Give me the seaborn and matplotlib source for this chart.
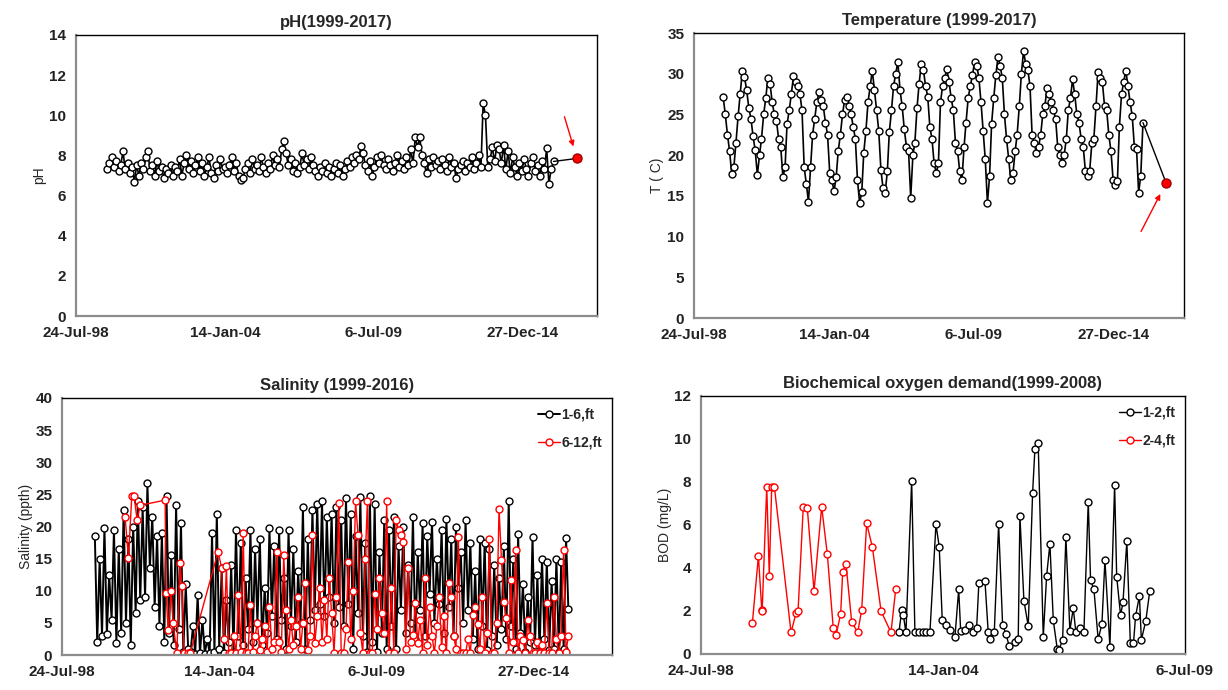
import matplotlib
matplotlib.use("Agg")
import matplotlib.pyplot as plt
import numpy as np
import pandas as pd
import seaborn as sns

# ---- data (Excel day serials on x) ----
EXCEL_EPOCH = pd.Timestamp("1899-12-30")

# pH, monthly from Sep 1999 to Feb 2016
ph_start = "1999-09-01"
ph_vals = [
    7.3, 7.6, 7.9, 7.4,
    7.7, 7.2, 7.5, 8.2, 7.3, 7.6, 7.1, 7.4, 6.7, 7.5, 7.0, 7.6,
    7.3, 7.9, 8.2, 7.2, 7.5, 7.0, 7.7, 7.2, 7.4, 6.9, 7.3, 7.1,
    7.5, 7.0, 7.4, 7.2, 7.8, 7.0, 7.6, 8.0, 7.3, 7.7, 7.1, 7.5,
    7.9, 7.2, 7.6, 7.0, 7.4, 7.9, 7.1, 6.9, 7.5, 7.2, 7.8, 7.3,
    7.4, 7.1, 7.5, 7.9, 7.2, 7.6, 7.0, 6.8, 6.9, 7.3, 7.6, 7.1,
    7.8, 7.3, 7.5, 7.2, 7.9, 7.4, 7.1, 7.6, 7.3, 8.0, 7.5, 7.8,
    7.4, 8.3, 8.7, 8.1, 7.5, 7.8, 7.2, 7.6, 7.1, 7.4, 8.1, 7.5,
    7.8, 7.3, 7.9, 7.5, 7.2, 7.0, 7.4, 7.2, 7.6, 7.1, 7.4, 7.0,
    7.3, 7.6, 7.1, 7.5, 7.0, 7.3, 7.7, 7.4, 7.9, 7.6, 8.0, 7.8,
    8.45, 8.1, 7.5, 7.2, 7.7, 7.0, 7.4, 7.9, 7.6, 8.0, 7.5, 7.3,
    7.8, 7.5, 7.2, 7.6, 8.0, 7.4, 7.7, 7.3, 7.9, 7.5, 8.3, 7.6,
    8.9, 8.4, 8.9, 8.0, 7.6, 7.1, 7.8, 7.4, 7.9, 7.5, 7.7, 7.3,
    7.8, 7.5, 7.2, 7.9, 7.4, 7.6, 6.9, 7.3, 7.5, 7.7, 7.2, 7.6,
    7.4, 7.9, 7.3, 7.6, 8.0, 7.4, 10.6, 10.0, 7.4, 7.8, 8.4, 7.7,
    8.5, 8.3, 7.6, 8.5, 7.3, 8.2, 7.1, 7.9, 7.4, 7.0, 7.6, 7.2,
    7.8, 7.3, 7.0, 7.6, 7.9, 7.2, 7.5, 7.0, 7.7, 7.3, 8.35, 6.6,
    7.3, 7.7,
]
ph_last_day = 42730
ph_last_val = 7.85

# Temperature, monthly from Sep 1999 to Feb 2016
temp_start = "1999-09-01"
temp_vals = [
    27.1, 25.0, 22.5, 20.5,
    17.7, 18.6, 21.5, 24.8, 27.5, 30.4, 29.6, 28.0, 25.8, 24.5, 22.3, 20.6,
    17.6, 20.0, 22.0, 25.0, 27.0, 29.5, 28.8, 26.5, 25.0, 24.2, 22.0, 21.0,
    17.3, 18.5, 23.8, 25.5, 27.5, 29.7, 29.0, 28.5, 27.5, 25.5, 18.5, 16.5,
    14.3, 18.5, 22.5, 24.5, 26.5, 27.8, 26.8, 26.0, 24.0, 22.5, 17.8, 17.0,
    15.6, 17.3, 20.5, 22.5, 25.0, 26.8, 27.1, 26.0, 25.0, 23.5, 22.0, 17.0,
    14.1, 15.5, 20.3, 23.0, 26.5, 28.5, 30.4, 28.0, 25.5, 23.0, 18.2, 16.0,
    15.4, 18.0, 22.8, 25.5, 28.5, 30.0, 31.5, 28.0, 26.0, 23.2, 21.0, 20.5,
    14.8, 20.0, 21.5, 25.8, 28.8, 31.2, 30.5, 28.5, 27.2, 23.5, 22.0, 19.0,
    17.8, 19.0, 26.5, 28.5, 29.5, 30.6, 29.0, 27.0, 25.5, 21.5, 20.5, 18.0,
    16.9, 21.0, 24.0, 27.0, 28.5, 29.8, 31.5, 31.0, 29.5, 26.5, 23.0, 19.5,
    14.1, 17.5, 23.8, 27.0, 29.8, 32.1, 31.0, 29.5, 25.0, 22.0, 19.5, 16.9,
    17.8, 20.5, 22.5, 26.0, 30.0, 32.8, 31.2, 30.5, 28.5, 22.5, 21.5, 20.3,
    21.0, 22.5, 25.0, 26.0, 28.3, 27.5, 26.5, 25.5, 24.5, 21.0, 20.0, 19.1,
    20.0, 22.0, 25.5, 27.0, 29.3, 27.5, 25.0, 24.0, 22.0, 21.0, 18.0, 17.5,
    18.1, 21.5, 22.0, 26.0, 30.2, 29.5, 29.0, 26.0, 25.5, 22.5, 20.5, 17.0,
    16.3, 16.8, 23.5, 27.5, 29.0, 30.4, 28.5, 26.5, 24.8, 21.0, 20.8, 15.4,
    17.5, 24.0,
]
temp_last_day = 42745
temp_last_val = 16.6

# Salinity 1-6 ft, monthly from Sep 1999 to Mar 2016
sal_shallow_start = "1999-09-01"
sal_shallow = [
    18.5, 2.0, 15.0, 3.0,
    19.8, 3.2, 12.5, 5.5, 19.5, 1.8, 16.5, 3.5, 22.5, 5.0, 18.0, 1.6,
    20.0, 6.5, 24.0, 8.5, 23.0, 9.0, 26.7, 13.5, 21.5, 7.5, 18.5, 4.5,
    19.0, 2.0, 24.8, 3.5, 15.5, 1.5, 23.4, 4.0, 20.5, 0.5, 11.0, 1.0,
    0.5, 4.5, 0.2, 9.3, 0.3, 5.5, 0.2, 2.5, 0.3, 19.0, 0.5, 22.0,
    1.0, 13.5, 0.3, 8.5, 2.0, 14.0, 0.5, 19.5, 3.0, 17.5, 1.5, 12.0,
    4.0, 19.5, 2.0, 16.5, 5.0, 18.0, 1.5, 10.5, 3.5, 19.7, 6.0, 17.0,
    2.5, 19.5, 5.5, 12.0, 1.0, 19.5, 4.5, 16.5, 2.0, 13.0, 5.0, 23.0,
    1.0, 18.0, 5.5, 22.5, 7.0, 23.5, 8.0, 24.0, 6.0, 21.5, 9.0, 22.0,
    5.0, 23.0, 7.5, 21.0, 4.5, 24.5, 8.0, 22.0, 1.0, 18.5, 6.5, 24.6,
    3.0, 17.5, 0.5, 24.8, 2.0, 23.5, 0.5, 16.0, 3.5, 21.0, 1.0, 19.5,
    4.5, 21.5, 1.0, 17.0, 7.0, 20.0, 3.5, 14.0, 5.0, 21.5, 2.5, 16.0,
    7.0, 20.5, 3.0, 18.5, 9.5, 20.7, 5.0, 15.0, 8.0, 19.5, 3.5, 21.2,
    7.5, 18.0, 3.0, 20.0, 10.5, 16.0, 5.0, 21.0, 7.0, 17.5, 2.5, 13.0,
    1.0, 18.0, 4.5, 17.5, 0.8, 16.5, 3.0, 14.0, 1.5, 12.0, 4.0, 17.0,
    2.5, 24.0, 4.5, 15.0, 1.0, 18.8, 3.5, 11.0, 0.5, 9.0, 2.0, 18.3,
    1.5, 12.5, 0.5, 15.0, 2.5, 14.5, 0.8, 11.5, 1.0, 15.0, 0.5, 14.5,
    1.0, 18.2, 7.2,
]

# Salinity 6-12 ft: irregular samples 2000-2004, then monthly from Feb 2004
sal_deep_early_days = [36803, 36845, 36888, 36917, 36956, 36994, 37312, 37325,
                       37350, 37389, 37414, 37461, 37503, 37525, 37554, 37605,
                       37631, 37987]
sal_deep_early = [21.5, 15.1, 24.7, 24.7, 21.0, 23.3, 24.1, 9.6,
                  3.9, 10.0, 5.0, 0.3, 14.3, 10.7, 0.3, 0.3,
                  0.3, 16.1]
sal_deep_start = "2004-02-01"
sal_deep = [
    13.5, 2.5, 13.9, 0.3, 0.3, 3.0, 0.3, 9.3, 0.5, 19.0, 0.3,
    0.3, 7.8, 0.5, 3.0, 5.0, 0.8, 2.5, 4.5, 0.5, 7.5, 1.0, 2.0,
    16.0, 2.0, 0.5, 15.5, 7.0, 1.0, 5.5, 1.5, 4.5, 9.0, 1.0, 5.0,
    11.2, 0.8, 3.0, 18.7, 1.8, 6.0, 10.5, 2.0, 8.5, 2.5, 12.0, 6.5,
    0.3, 9.0, 23.6, 0.3, 0.3, 4.0, 14.5, 2.5, 10.0, 23.9, 18.7, 3.5,
    0.3, 15.0, 23.9, 0.3, 0.3, 9.5, 4.0, 12.0, 6.5, 3.5, 23.9, 0.3,
    10.5, 0.3, 21.0, 19.5, 18.7, 17.6, 1.0, 13.5, 2.0, 3.1, 8.1, 1.9,
    5.5, 0.3, 12.0, 1.5, 7.5, 3.0, 0.3, 4.5, 9.0, 1.2, 6.0, 0.3,
    11.2, 9.1, 3.0, 1.0, 18.4, 0.3, 0.3, 0.3, 2.5, 0.3, 6.2, 7.5,
    4.9, 1.0, 9.0, 0.3, 3.5, 18.1, 0.3, 0.3, 5.0, 22.8, 14.8, 8.3,
    5.7, 0.3, 11.7, 2.0, 16.3, 0.3, 2.9, 2.4, 0.3, 5.5, 3.0, 0.3,
    0.3, 2.0, 0.3, 1.5, 0.3, 8.1, 0.3, 0.3, 9.1, 2.5, 0.3, 3.0,
    16.3, 0.5, 3.0,
]

# BOD 2-4 ft (red) and 1-2 ft (black)
bod_deep_days = [36424, 36474, 36502, 36505, 36543, 36564, 36584, 36606, 36744,
                 36785, 36802, 36845, 36878, 36934, 36997, 37044, 37093, 37116,
                 37154, 37171, 37198, 37245, 37295, 37328, 37369, 37416, 37488,
                 37570, 37609]
bod_deep = [1.43, 4.56, 2.05, 2.0, 7.78, 3.63, 7.78, 7.78, 1.0,
            1.9, 2.0, 6.85, 6.8, 2.93, 6.85, 4.63, 1.19, 0.88,
            1.85, 3.83, 4.2, 1.5, 1.0, 2.05, 6.07, 4.98, 2.0,
            1.0, 3.0]
bod_shallow_days = [37636, 37659, 37672, 37694, 37741, 37768, 37802, 37832, 37862,
                    37892, 37942, 37969, 37994, 38025, 38058, 38099, 38130, 38146,
                    38182, 38215, 38245, 38278, 38297, 38347, 38374, 38388, 38424,
                    38460, 38493, 38521, 38548, 38595, 38622, 38636, 38669, 38705,
                    38741, 38760, 38787, 38829, 38857, 38884, 38912, 38945, 38959,
                    38989, 39016, 39049, 39077, 39099, 39132, 39165, 39201, 39220,
                    39248, 39283, 39314, 39339, 39380, 39419, 39436, 39468, 39488,
                    39520, 39549, 39575, 39592, 39624, 39640, 39677, 39710]
bod_shallow = [1.0, 2.05, 1.81, 1.0, 8.05, 1.0, 1.0, 1.0, 1.0,
               1.0, 6.03, 4.99, 1.57, 1.35, 1.13, 0.8, 3.01, 1.09,
               1.12, 1.35, 1.0, 1.2, 3.32, 3.4, 1.0, 0.68, 1.0,
               6.03, 1.35, 0.93, 0.35, 0.56, 0.68, 6.42, 2.48, 1.3,
               7.5, 9.53, 9.83, 0.8, 3.64, 5.12, 1.56, 0.22, 0.2,
               0.65, 5.46, 1.09, 2.12, 1.0, 1.2, 1.0, 7.09, 3.44,
               3.0, 0.68, 1.4, 4.37, 0.34, 7.86, 3.6, 1.8, 2.4,
               5.25, 0.5, 0.5, 1.75, 2.7, 0.65, 1.55, 2.95]

tick_days_long = [36000, 38000, 40000, 42000]
tick_days_bod = [36000, 38000, 40000]


def monthly_days(start, n):
    """Excel day serials for mid-month samples."""
    d = pd.date_range(start, periods=n, freq="MS") + pd.Timedelta(days=14)
    return (d - EXCEL_EPOCH).days.to_numpy()


def day_label(serial):
    d = EXCEL_EPOCH + pd.Timedelta(days=int(serial))
    return f"{d.day}-{d.strftime('%b-%y')}"


def draw_series(ax, x, y, color, label=None, lw=1.0):
    sns.lineplot(
        x=x, y=y, ax=ax, color=color, linewidth=lw,
        marker="o", markersize=5, markerfacecolor="white",
        markeredgecolor=color, markeredgewidth=1.0,
        estimator=None, sort=False, label=label,
    )


def style_axes(ax, title, ylabel, ylim, ystep, xlim, xticks):
    ax.set_xlim(*xlim)
    ax.set_ylim(*ylim)
    ax.set_yticks(np.arange(ylim[0], ylim[1] + ystep / 2, ystep))
    ax.set_xticks(xticks)
    ax.set_xticklabels([day_label(t) for t in xticks])
    ax.set_title(title, fontsize=12, fontweight="bold", pad=6)
    ax.set_ylabel(ylabel, fontsize=10, labelpad=2)
    ax.set_xlabel("")
    for side in ["left", "bottom"]:
        ax.spines[side].set_color("#8c8c8c")
        ax.spines[side].set_linewidth(1.6)
    for side in ["top", "right"]:
        ax.spines[side].set_color("black")
        ax.spines[side].set_linewidth(1.0)
    ax.tick_params(axis="both", direction="out", length=4, width=1.2,
                   color="#8c8c8c", labelsize=11, pad=3)
    for lab in ax.get_xticklabels() + ax.get_yticklabels():
        lab.set_fontweight("bold")
        lab.set_color("#222222")
    ax.grid(False)


def mark_last(ax, x_last, y_last, x_prev, y_prev, text_offset):
    ax.plot([x_prev, x_last], [y_prev, y_last], color="black", linewidth=1.0, zorder=2)
    ax.plot([x_last], [y_last], marker="o", markersize=6.5, color="red",
            markeredgecolor="#a00000", markeredgewidth=1.0, zorder=5)
    ax.annotate("", xy=(x_last, y_last), xytext=text_offset,
                textcoords="offset points",
                arrowprops=dict(arrowstyle="-|>", color="red", lw=1.0,
                                mutation_scale=8, shrinkA=0, shrinkB=9))


def main():
    sns.set_style("white")
    plt.rcParams["font.family"] = ["Liberation Sans", "DejaVu Sans"]

    fig = plt.figure(figsize=(12.28, 6.9), dpi=100)
    ax_ph = fig.add_axes([0.0619, 0.5420, 0.4243, 0.4073])
    ax_t = fig.add_axes([0.5651, 0.5391, 0.3990, 0.4130])
    ax_s = fig.add_axes([0.0505, 0.0507, 0.4479, 0.3725])
    ax_b = fig.add_axes([0.5709, 0.0522, 0.3940, 0.3739])

    # pH
    ph_days = monthly_days(ph_start, len(ph_vals))
    draw_series(ax_ph, ph_days, ph_vals, "black", lw=1.2)
    mark_last(ax_ph, ph_last_day, ph_last_val, ph_days[-1], ph_vals[-1], (-9, 30))
    style_axes(ax_ph, "pH(1999-2017)", "pH", (0, 14), 2, (36000, 43000), tick_days_long)

    # Temperature
    t_days = monthly_days(temp_start, len(temp_vals))
    draw_series(ax_t, t_days, temp_vals, "black", lw=1.2)
    mark_last(ax_t, temp_last_day, temp_last_val, t_days[-1], temp_vals[-1], (-18, -35))
    style_axes(ax_t, "Temperature (1999-2017)", "T ( C)", (0, 35), 5, (36000, 43000), tick_days_long)

    # Salinity
    s1_days = monthly_days(sal_shallow_start, len(sal_shallow))
    s2_days = np.concatenate([sal_deep_early_days, monthly_days(sal_deep_start, len(sal_deep))])
    s2_vals = sal_deep_early + sal_deep
    draw_series(ax_s, s1_days, sal_shallow, "black", label="1-6,ft", lw=1.4)
    draw_series(ax_s, s2_days, s2_vals, "red", label="6-12,ft")
    style_axes(ax_s, "Salinity (1999-2016)", "Salinity (ppth)", (0, 40), 5, (36000, 43000), tick_days_long)
    ax_s.legend(loc="upper right", frameon=False, handlelength=1.6,
                handletextpad=0.1, labelspacing=1.0, borderaxespad=0.3,
                prop={"weight": "bold", "size": 10})

    # BOD
    draw_series(ax_b, bod_shallow_days, bod_shallow, "black", label="1-2,ft")
    draw_series(ax_b, bod_deep_days, bod_deep, "red", label="2-4,ft")
    style_axes(ax_b, "Biochemical oxygen demand(1999-2008)", "BOD (mg/L)", (0, 12), 2, (36000, 40000), tick_days_bod)
    ax_b.legend(loc="upper right", frameon=False, handlelength=1.6,
                handletextpad=0.1, labelspacing=1.0, borderaxespad=0.3,
                prop={"weight": "bold", "size": 10})

    for ax in [ax_ph, ax_t]:
        if ax.get_legend() is not None:
            ax.get_legend().remove()

    fig.savefig("out.png", dpi=100)
    plt.close(fig)


if __name__ == "__main__":
    main()
